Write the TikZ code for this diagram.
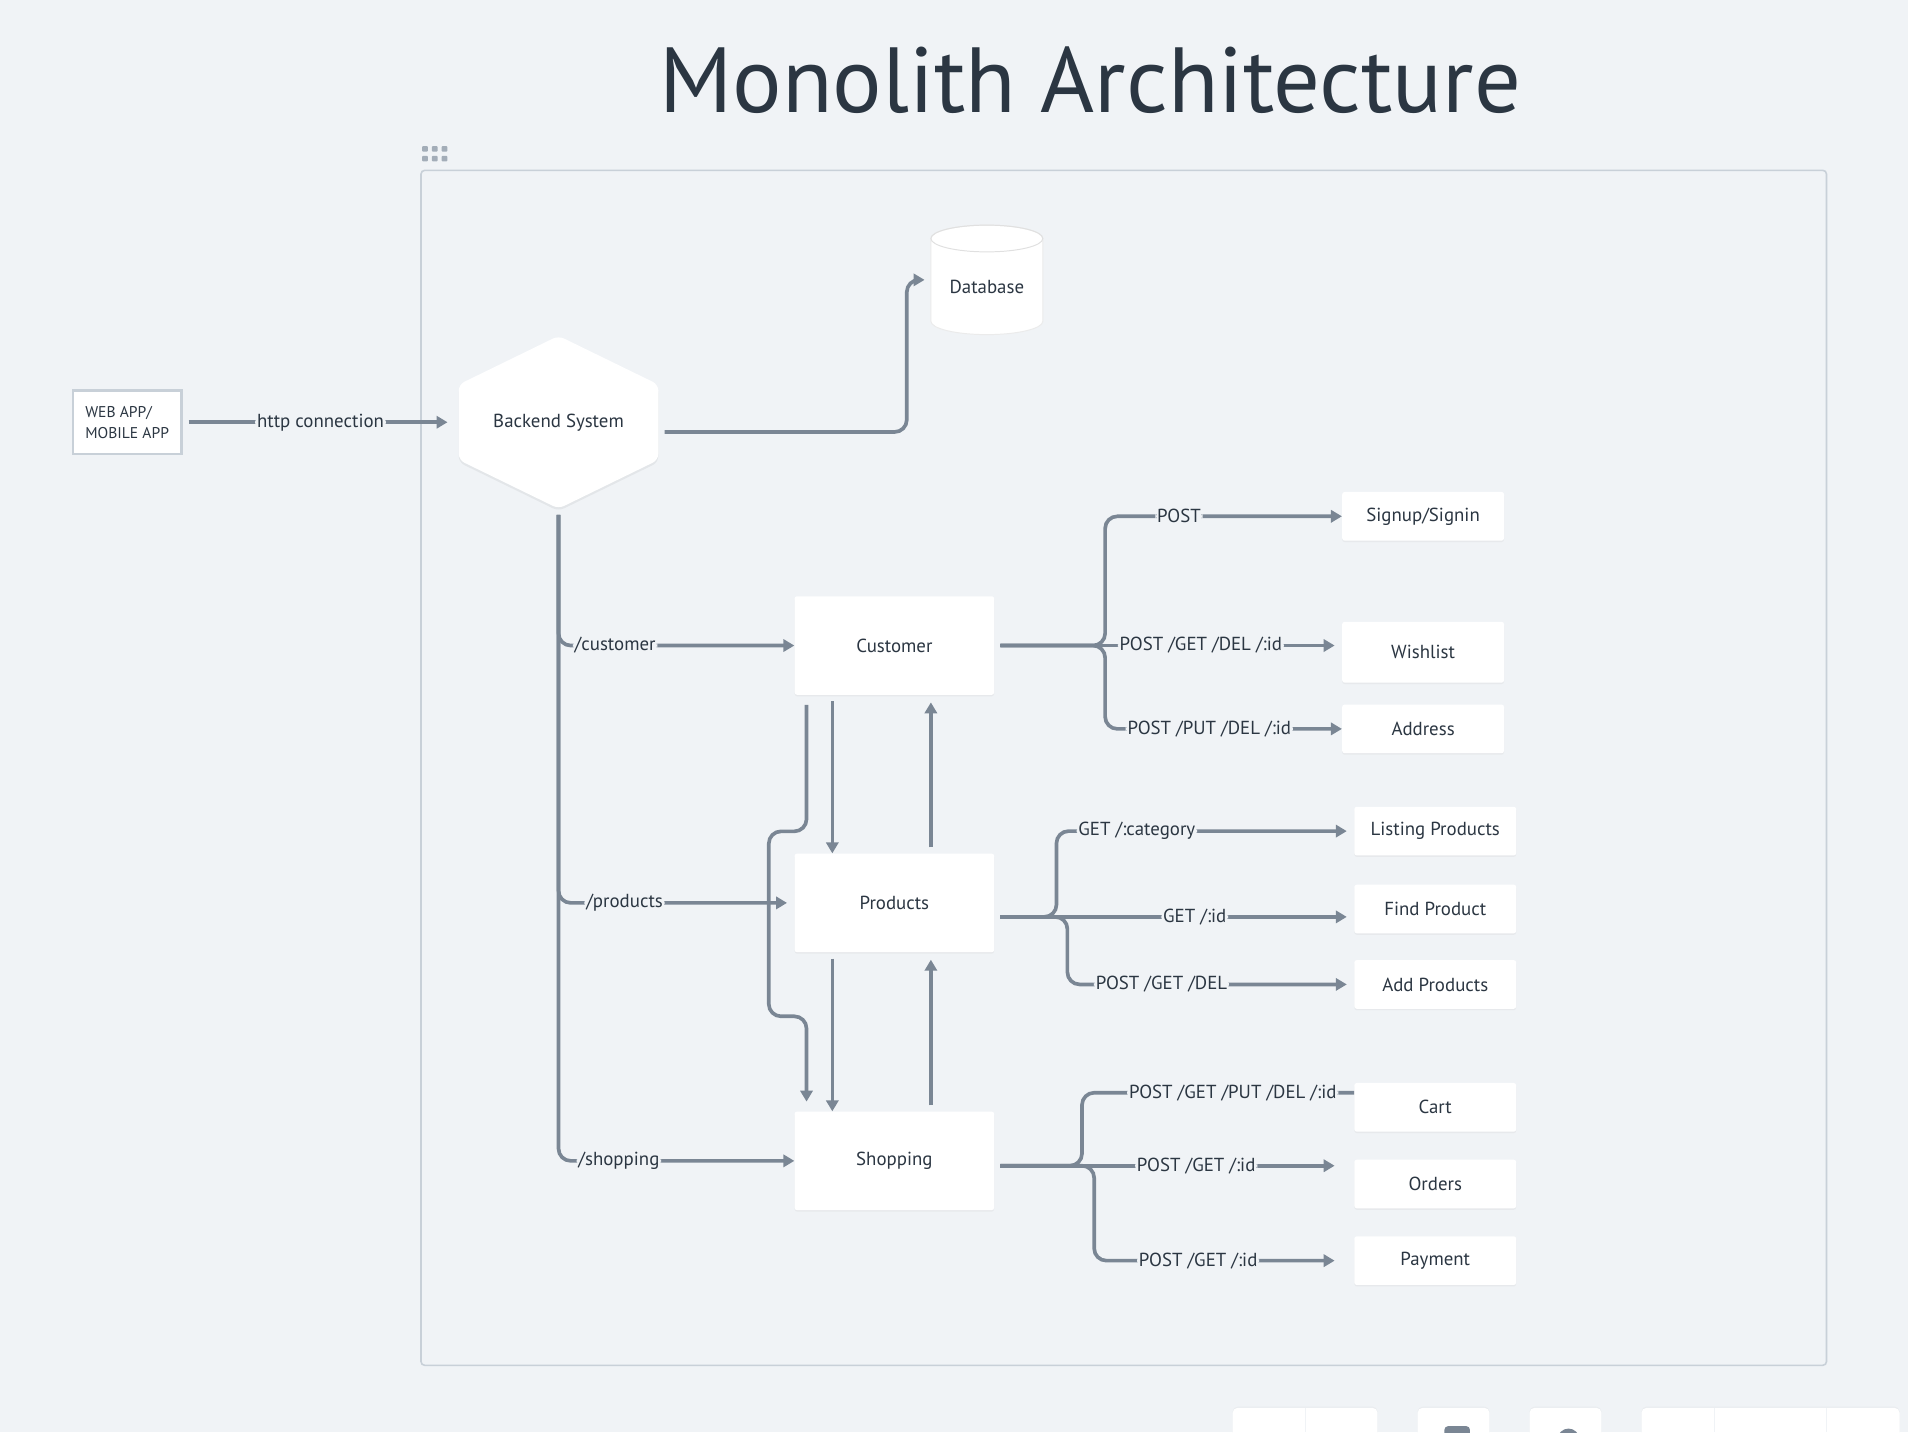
\documentclass[tikz,border=0pt]{standalone}
\usepackage{fontspec}
\setmainfont{PT Sans}
\usetikzlibrary{arrows.meta,positioning,shadows}

\definecolor{paper}{HTML}{F0F3F6}
\definecolor{wire}{HTML}{7A8694}
\definecolor{ink}{HTML}{2B3642}
\definecolor{rim}{HTML}{C8D0D8}
\definecolor{grip}{HTML}{A3ADB8}

\tikzset{
  lbl/.style={text=ink, font=\fontsize{15.5}{18}\selectfont},
  svc/.style={lbl, rectangle, fill=white, rounded corners=2pt, minimum width=164pt, minimum height=81pt,
    drop shadow={opacity=0.08, shadow xshift=0pt, shadow yshift=-1.2pt}},
  feat/.style={svc, minimum width=133pt, minimum height=40pt},
  link/.style={draw=wire, line width=3pt, rounded corners=10pt, shorten <=5pt,
    -{Triangle[length=9pt,width=10pt]}},
  verb/.style={lbl, fill=paper, inner sep=1.5pt}
}

\begin{document}
\begin{tikzpicture}[x=1pt, y=-1pt]

% Canvas
\useasboundingbox (0,0) rectangle (1568,1177);
\clip (0,0) rectangle (1568,1177);
\fill[paper] (0,0) rectangle (1568,1177);

% Title
\node[text=ink, font=\fontsize{76}{80}\selectfont] (title) at (896,66) {Monolith Architecture};

% Grip dots and outer frame
\foreach \i in {0,1,2}
  \foreach \j in {0,1}
    \fill[grip, rounded corners=0.8pt] (347+8*\i,120+8*\j) rectangle ++(4.7,4.7);
\draw[rim, line width=1.3pt, rounded corners=3pt] (346,140) rectangle (1501,1122);

% Client box and backend hexagon
\node[draw=rim, line width=2pt, fill=white, minimum width=89pt, minimum height=52pt, align=left,
  text=ink, font=\fontsize{12.8}{17}\selectfont] (client) at (104.5,347) {WEB APP/\\MOBILE APP};
\fill[black, opacity=0.05, rounded corners=5pt] (459,278) -- (541,318) -- (541,380) -- (459,420) -- (377,380) -- (377,318) -- cycle;
\fill[white, rounded corners=5pt] (459,276) -- (541,316) -- (541,378) -- (459,418) -- (377,378) -- (377,316) -- cycle;
\node[lbl, minimum width=164pt, minimum height=142pt] (be) at (459,347) {Backend System};

% Database cylinder
\fill[white, draw=black!8, line width=0.8pt] (765,196) -- (765,264)
  arc[start angle=180, end angle=0, x radius=46, y radius=11] -- (857,196)
  arc[start angle=0, end angle=-180, x radius=46, y radius=11] -- cycle;
\draw[black!12, line width=0.8pt] (811,196) ellipse [x radius=46, y radius=11];
\node[lbl, minimum width=92pt, minimum height=90pt] (db) at (811,236) {Database};

% Services
\node[svc] (cust) at (735,530.5) {Customer};
\node[svc] (prod) at (735,742) {Products};
\node[svc] (shop) at (735,954) {Shopping};

% Features
\node[feat] (sign) at (1169.5,424.3) {Signup/Signin};
\node[feat, minimum height=50pt] (wish) at (1169.5,536) {Wishlist};
\node[feat] (addr) at (1169.5,599) {Address};
\node[feat] (list) at (1179.5,683) {Listing Products};
\node[feat] (find) at (1179.5,747) {Find Product};
\node[feat] (add) at (1179.5,809) {Add Products};
\node[feat] (cart) at (1179.5,910) {Cart};
\node[feat] (ord) at (1179.5,973) {Orders};
\node[feat] (pay) at (1179.5,1036) {Payment};

% Backend routes
\draw[link, shorten >=9pt] (client) -- node[verb]{http connection} (be);
\draw[link, shorten >=5pt] ([yshift=-8pt]be.east) -- ++(204,0) |- ([yshift=6pt]db.west);
\draw[link] (be.south) |- node[verb, pos=0.62]{/customer} (cust.west);
\draw[link, shorten >=6pt] (be.south) |- node[verb, pos=0.64]{/products} (prod.west);
\draw[link] (be.south) |- node[verb, pos=0.628]{/shopping} (shop.west);

% Calls between services
\draw[link] ([xshift=-51pt]cust.south) -- ([xshift=-51pt]prod.north);
\draw[link, shorten >=6pt] ([xshift=30pt]prod.north) -- ([xshift=30pt]cust.south);
\draw[link] ([xshift=-51pt]prod.south) -- ([xshift=-51pt]shop.north);
\draw[link, shorten >=6pt] ([xshift=30pt]shop.north) -- ([xshift=30pt]prod.south);
\draw[link, shorten <=8pt, shorten >=8pt] ([xshift=10pt]cust.south west) -- ++(0,112) -- ++(-31,0)
  -- ++(0,152) -- ++(31,0) -- ([xshift=10pt]shop.north west);

% Customer endpoints
\draw[link] (cust.east) -- ++(91,0) |- node[verb, pos=0.656]{POST} (sign.west);
\draw[link, shorten >=6pt] (cust.east) -- node[verb, pos=0.594]{POST /GET /DEL /:id} (cust.east -| wish.west);
\draw[link] (cust.east) -- ++(91,0) |- node[verb, pos=0.72]{POST /PUT /DEL /:id} (addr.west);

% Products endpoints
\coordinate (pout) at ([yshift=-11.5pt]prod.east);
\draw[link, shorten >=6pt] (pout) -- ++(51,0) |- node[verb, pos=0.635]{GET /:category} (list.west);
\draw[link, shorten >=6pt] (pout) -- node[verb, pos=0.557]{GET /:id} (pout -| find.west);
\draw[link, shorten >=6pt] (pout) -- ++(60,0) |- node[verb, pos=0.664]{POST /GET /DEL} (add.west);

% Shopping endpoints
\coordinate (sout) at ([yshift=-4pt]shop.east);
\draw[link, -] (sout) -- ++(72,0) |- node[verb, pos=0.777]{POST /GET /PUT /DEL /:id} ([yshift=12pt]cart.west);
\draw[link, shorten >=16pt] (sout) -- node[verb, pos=0.561]{POST /GET /:id} (sout -| ord.west);
\draw[link, shorten >=16pt] (sout) -- ++(82,0) |- node[verb, pos=0.70]{POST /GET /:id} (pay.west);

% Toolbar at the bottom edge
\foreach \a/\b in {1013/1132, 1165/1224, 1257/1316, 1349/1561}
  \fill[white, rounded corners=4pt, drop shadow={opacity=0.06, shadow xshift=0pt, shadow yshift=1pt}]
    (\a,1157) rectangle (\b,1195);
\foreach \x in {1073, 1409, 1501}
  \draw[paper, line width=1pt] (\x,1157) -- (\x,1177);
\fill[wire, rounded corners=3pt] (1187,1172) rectangle (1208,1190);
\fill[wire] (1289,1183) circle (9);

\end{tikzpicture}
\end{document}
